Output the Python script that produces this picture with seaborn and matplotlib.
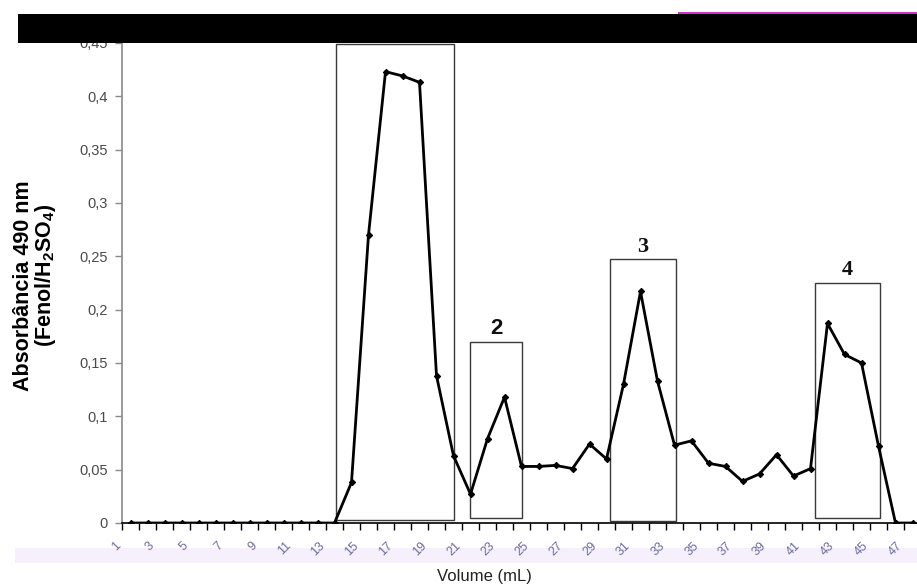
import matplotlib
matplotlib.use("Agg")
import matplotlib.pyplot as plt
from matplotlib.patches import Rectangle
from matplotlib.transforms import ScaledTranslation
import seaborn as sns
import pandas as pd

# Fractions collected (category index) and absorbance readings
fractions = list(range(1, 48))
absorbance = [
    0, 0, 0, 0, 0, 0, 0, 0, 0, 0, 0, 0, 0,
    0.038, 0.270, 0.423, 0.419, 0.413, 0.138, 0.063, 0.027, 0.079, 0.118,
    0.053, 0.053, 0.054, 0.051, 0.074, 0.060, 0.130, 0.217, 0.133, 0.073,
    0.077, 0.056, 0.053, 0.039, 0.046, 0.064, 0.044, 0.051, 0.187, 0.158,
    0.150, 0.072, 0, 0,
]

# x tick labels (every other fraction)
xtick_pos = list(range(1, 48, 2))
xtick_labels = [str(v) for v in xtick_pos]

# y tick values and their labels (decimal comma)
ytick_vals = [0, 0.05, 0.10, 0.15, 0.20, 0.25, 0.30, 0.35, 0.40, 0.45]
ytick_labels = ["0", "0,05", "0,1", "0,15", "0,2", "0,25", "0,3", "0,35", "0,4", "0,45"]

# Pooled peak regions: left, right (fraction), bottom, top (absorbance)
box_left = [13.1, 20.99, 29.2, 41.25]
box_right = [20.0, 24.05, 33.07, 45.09]
box_bottom = [0.003, 0.005, 0.002, 0.005]
box_top = [0.4485, 0.170, 0.247, 0.225]
box_names = ["", "2", "3", "4"]

df = pd.DataFrame({"fraction": fractions, "abs": absorbance})

sns.set_style("white")
plt.rcParams["font.family"] = ["Liberation Sans", "DejaVu Sans"]
plt.rcParams["mathtext.fontset"] = "custom"
plt.rcParams["mathtext.bf"] = "Liberation Sans:bold"
plt.rcParams["mathtext.rm"] = "Liberation Sans:bold"

W, H = 917, 588
fig = plt.figure(figsize=(W / 100, H / 100), dpi=100)
fig.patch.set_facecolor("white")

# light band behind the x tick labels
fig.add_artist(Rectangle((15 / W, 1 - 563 / H), 1, 15 / H, transform=fig.transFigure,
                         facecolor="#f5f0fb", edgecolor="none", zorder=0))

left_px, right_px, bot_px = 122, 921, 523
top_px = bot_px - 0.45 * 1067
ax = fig.add_axes([left_px / W, 1 - bot_px / H, (right_px - left_px) / W, (bot_px - top_px) / H])
ax.set_facecolor("none")

sns.lineplot(data=df, x="fraction", y="abs", ax=ax, color="black", linewidth=2.0,
             marker="D", markersize=3.2, markeredgecolor="black", zorder=3)

ax.set_xlim(0.5, 47.5)
ax.set_ylim(0, 0.45)

# peak boxes and their numbers
for l, r, b, t, name in zip(box_left, box_right, box_bottom, box_top, box_names):
    ax.add_patch(Rectangle((l, b), r - l, t - b, fill=False, edgecolor="#3a3a3a",
                           linewidth=1.0, zorder=2))
    if name:
        fam = ["Liberation Sans"] if name == "2" else ["Liberation Serif"]
        ax.annotate(name, xy=((l + r) / 2, t), xytext=(0, 2), textcoords="offset points",
                    ha="center", va="bottom", fontsize=16, fontweight="bold",
                    family=fam, color="#111111")

# axes styling
for s in ("top", "right"):
    ax.spines[s].set_visible(False)
ax.spines["left"].set_color("#8a8a8a")
ax.spines["left"].set_linewidth(1.2)
ax.spines["bottom"].set_color("black")
ax.spines["bottom"].set_linewidth(1.2)

ax.set_yticks(ytick_vals)
ax.set_yticklabels(ytick_labels, fontsize=10.5, color="#4a4a4a")
ax.tick_params(axis="y", direction="out", length=5, width=1, color="#8a8a8a", pad=5, left=True)

ax.set_xticks(xtick_pos)
ax.set_xticklabels(xtick_labels, rotation=45, ha="right", rotation_mode="anchor",
                   fontsize=9, color="#6b6b9e")
ax.set_xticks([v + 0.5 for v in range(0, 48)], minor=True)
ax.tick_params(axis="x", which="major", length=0, pad=12)
ax.tick_params(axis="x", which="minor", direction="out", length=5, width=1, color="black", bottom=True)

# nudge the rotated x labels left so their ends sit under the categories
shift = ScaledTranslation(-16 / 100, 0, fig.dpi_scale_trans)
for lab in ax.xaxis.get_majorticklabels():
    lab.set_transform(lab.get_transform() + shift)

ax.set_xlabel("")
ax.set_ylabel("")

fig.text(484 / W, 1 - 577 / H, "Volume (mL)", ha="center", va="center",
         fontsize=12, color="#222222")
fig.text(24 / W, 1 - 286 / H, "Absorbância 490 nm", rotation=90, ha="center", va="center",
         fontsize=15.5, fontweight="bold", color="black")
fig.text(45 / W, 1 - 275 / H, r"(Fenol/H$_\mathbf{2}$SO$_\mathbf{4}$)", rotation=90,
         ha="center", va="center", fontsize=15.5, fontweight="bold", color="black")

# black banner across the top
fig.add_artist(Rectangle((18 / W, 1 - 43 / H), (W - 18) / W, 29 / H, transform=fig.transFigure,
                         facecolor="black", edgecolor="none", zorder=10))
fig.add_artist(Rectangle((678 / W, 1 - 14 / H), (W - 678) / W, 2 / H, transform=fig.transFigure,
                         facecolor="#cc33cc", edgecolor="none", zorder=11))

fig.savefig("out.png", dpi=100)
